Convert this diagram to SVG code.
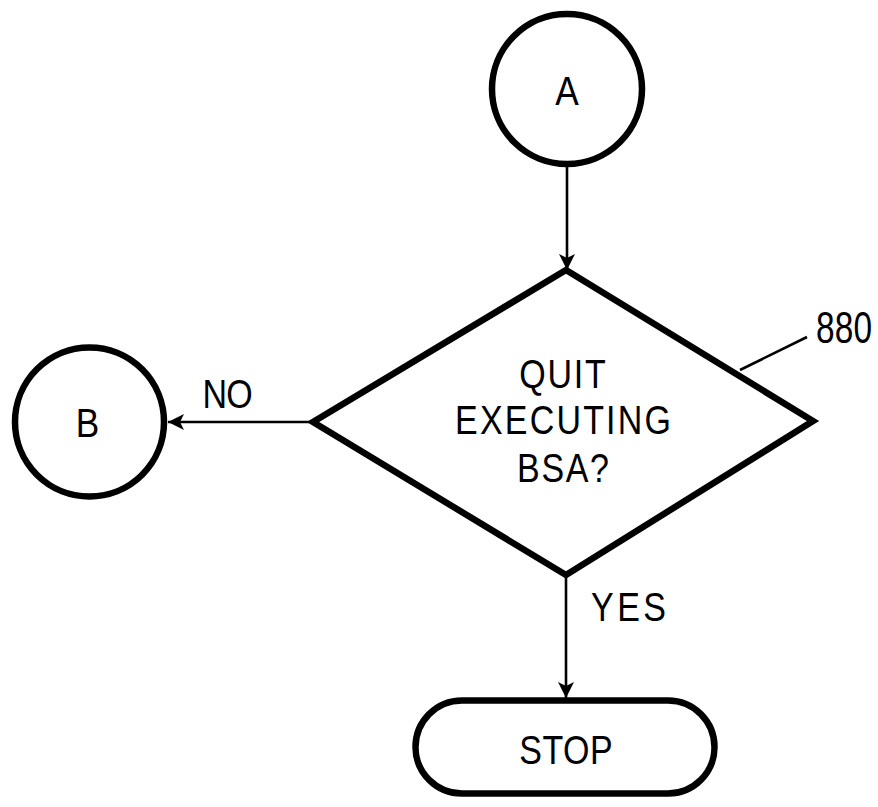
<svg xmlns="http://www.w3.org/2000/svg" width="878" height="807" viewBox="0 0 878 807">
  <style>
    .shape { fill: #fff; stroke: #000; stroke-width: 6.5; stroke-linejoin: miter; }
    .wire { fill: none; stroke: #000; stroke-width: 2.6; }
    .lbl { font-family: "Liberation Sans", Arial, sans-serif; font-size: 40px; fill: #000; text-anchor: middle; }
  </style>
  <defs>
    <marker id="arrow" viewBox="0 0 16 16" refX="16" refY="8" markerWidth="16" markerHeight="16" markerUnits="userSpaceOnUse" orient="auto">
      <path d="M0,0 L16,8 L0,16 L4,8 Z" fill="#000"/>
    </marker>
  </defs>
  <rect width="878" height="807" fill="#fff"/>

  <g id="connectors">
    <line class="wire" x1="567" y1="166" x2="567" y2="270" marker-end="url(#arrow)"/>
    <line class="wire" x1="313" y1="422" x2="168" y2="422" marker-end="url(#arrow)"/>
    <line class="wire" x1="566" y1="576" x2="566" y2="698" marker-end="url(#arrow)"/>
    <line class="wire" x1="740" y1="370" x2="807" y2="337"/>
  </g>

  <g id="start-a">
    <circle class="shape" cx="567" cy="89" r="75"/>
    <text class="lbl" transform="translate(567,105) scale(0.88,1)">A</text>
  </g>

  <g id="decision-880">
    <polygon class="shape" points="566,270 813,421 566,575 313,422"/>
    <text class="lbl" transform="translate(562.5,388) scale(0.85,1)" textLength="102" lengthAdjust="spacing">QUIT</text>
    <text class="lbl" transform="translate(563,434) scale(0.85,1)" textLength="254" lengthAdjust="spacing">EXECUTING</text>
    <text class="lbl" transform="translate(563,482) scale(0.85,1)" textLength="108" lengthAdjust="spacing">BSA?</text>
    <text class="lbl" style="font-size:44px" transform="translate(844,343) scale(0.76,1)" textLength="74" lengthAdjust="spacing">880</text>
  </g>

  <g id="goto-b">
    <circle class="shape" cx="89.5" cy="422" r="74.5"/>
    <text class="lbl" transform="translate(87.5,437) scale(0.88,1)">B</text>
    <text class="lbl" transform="translate(227.5,408) scale(0.85,1)" textLength="59" lengthAdjust="spacing">NO</text>
  </g>

  <g id="stop">
    <rect class="shape" x="415.5" y="700.5" width="299" height="93" rx="46.5" ry="46.5"/>
    <text class="lbl" transform="translate(566,764) scale(0.85,1)" textLength="110" lengthAdjust="spacing">STOP</text>
    <text class="lbl" transform="translate(628.5,621) scale(0.85,1)" textLength="88" lengthAdjust="spacing">YES</text>
  </g>
</svg>
